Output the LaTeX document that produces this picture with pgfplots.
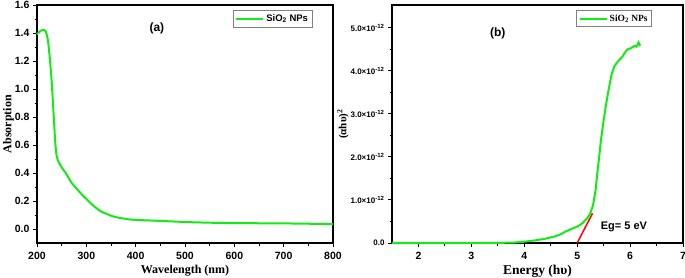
\documentclass[border=0pt]{standalone}
\usepackage{pgfplots}
\pgfplotsset{compat=1.18}
\usepackage{fontspec}
\setmainfont{Liberation Serif}
\newfontfamily\arial{Liberation Sans}
\definecolor{lgreen}{RGB}{20,235,20}
\begin{document}
\begin{tikzpicture}[x=1pt,y=1pt]
\useasboundingbox (0,0) rectangle (685,277);
\pgfplotsset{
  every axis/.append style={
    scale only axis,
    axis line style={line width=1.3pt},
    tick align=outside,
    xtick pos=bottom, ytick pos=left,
    minor tick num=1,
    major tick length=4pt, minor tick length=2.5pt,
    every tick/.style={black, line width=1pt},
    tick label style={font=\arial\bfseries\fontsize{10.5}{12}\selectfont},
    xticklabel style={yshift=-2pt},
    /pgf/number format/assume math mode=true,
    label style={font=\bfseries\fontsize{12}{14}\selectfont},
    clip=false,
    legend image code/.code={\draw[#1] (0pt,0pt) -- (27pt,0pt);},
  }
}
\begin{axis}[at={(37pt,34pt)}, anchor=south west,
  width=296pt, height=238pt,
  xmin=200, xmax=800, ymin=-0.1, ymax=1.6,
  xtick={200,300,...,800},
  ytick={0,0.2,...,1.6},
  yticklabel style={/pgf/number format/.cd, fixed, fixed zerofill, precision=1},
  xlabel={Wavelength (nm)}, ylabel={Absorption},
  xlabel style={yshift=2pt}, ylabel style={yshift=-6pt},
  legend style={at={(0.93,0.978)}, anchor=north east, draw=gray, line width=0.5pt,
    font=\arial\bfseries\fontsize{9.5}{10}\selectfont, inner sep=2pt},
  legend cell align=left,
]
\addplot[lgreen, line width=2pt, smooth] coordinates {
(200,1.39) (205,1.41) (210,1.42) (215,1.42) (218,1.41) (222,1.35) (226,1.22)
(230,1.04) (234,0.80) (237,0.62) (240,0.52) (245,0.47) (250,0.44) (260,0.39)
(270,0.33) (280,0.29) (290,0.25) (300,0.215) (310,0.18) (320,0.15) (330,0.125)
(340,0.11) (350,0.095) (360,0.085) (380,0.072) (400,0.065) (450,0.058)
(500,0.050) (550,0.045) (600,0.042) (700,0.040) (800,0.035)};
\addlegendentry{SiO\textsubscript{2} NPs}
\node[font=\arial\bfseries\fontsize{12}{14}\selectfont] at (axis cs:443,1.43) {(a)};
\end{axis}
\begin{axis}[at={(392pt,34pt)}, anchor=south west,
  width=291pt, height=238pt,
  xmin=1.5, xmax=7, ymin=0, ymax=5.53e-12,
  xtick={2,3,...,7},
  ytick={0,1e-12,2e-12,3e-12,4e-12,5e-12},
  scaled y ticks=false,
  yticklabels={0.0, 1.0×10\textsuperscript{-12}, 2.0×10\textsuperscript{-12},
    3.0×10\textsuperscript{-12}, 4.0×10\textsuperscript{-12}, 5.0×10\textsuperscript{-12}},
  yticklabel style={font=\arial\bfseries\fontsize{8}{9}\selectfont},
  xlabel={Energy (hυ)}, ylabel={(αhυ)\textsuperscript{2}},
  xlabel style={yshift=2pt, font=\bfseries\fontsize{13.5}{15}\selectfont},
  ylabel style={yshift=-5pt, font=\bfseries\fontsize{11}{12}\selectfont},
  legend style={at={(0.893,0.978)}, anchor=north east, draw=gray, line width=0.5pt,
    font=\bfseries\fontsize{9.5}{10}\selectfont, inner sep=2pt},
  legend cell align=left,
]
\addplot[lgreen, line width=2pt] coordinates {
(1.5,0) (2,0) (3,0) (3.5,0.003e-12) (3.8,0.01e-12) (4.0,0.03e-12) (4.2,0.06e-12)
(4.4,0.10e-12) (4.5,0.13e-12) (4.6,0.16e-12) (4.7,0.21e-12) (4.8,0.28e-12)
(4.9,0.33e-12) (5.0,0.38e-12) (5.1,0.46e-12) (5.2,0.59e-12) (5.25,0.70e-12)
(5.3,0.88e-12) (5.35,1.25e-12) (5.38,1.62e-12) (5.42,2.05e-12) (5.45,2.40e-12)
(5.5,2.85e-12) (5.55,3.25e-12) (5.6,3.60e-12) (5.65,3.92e-12) (5.7,4.10e-12)
(5.77,4.22e-12) (5.85,4.32e-12) (5.9,4.42e-12) (5.95,4.50e-12) (6.0,4.52e-12)
(6.05,4.55e-12) (6.08,4.58e-12) (6.12,4.56e-12) (6.16,4.66e-12) (6.18,4.60e-12)
(6.2,4.62e-12)};
\addlegendentry{SiO\textsubscript{2} NPs}
\addplot[red, line width=1.5pt, forget plot] coordinates {(5.0,0) (5.29,0.69e-12)};
\node[font=\arial\bfseries\fontsize{11}{13}\selectfont, anchor=west] at (axis cs:5.38,0.37e-12) {Eg= 5 eV};
\node[font=\arial\bfseries\fontsize{12}{14}\selectfont] at (axis cs:3.5,4.88e-12) {(b)};
\end{axis}
\end{tikzpicture}
\end{document}
